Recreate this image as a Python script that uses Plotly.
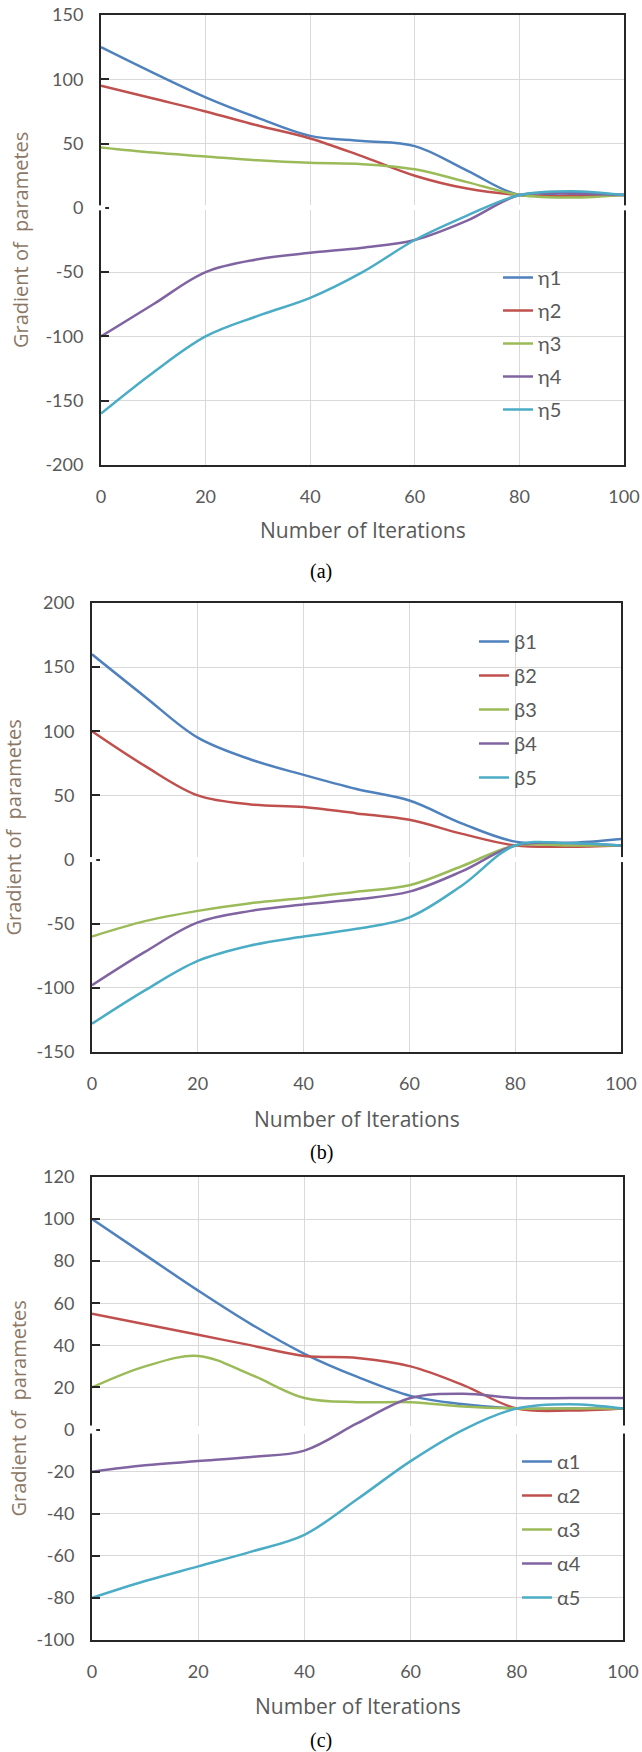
import plotly.graph_objects as go

# ---------------- data ----------------
iterations = [0, 10, 20, 30, 40, 50, 60, 70, 80, 90, 100]

eta_names = ["η1", "η2", "η3", "η4", "η5"]
eta1 = [125, 105, 86, 70, 56, 52, 48, 29, 10, 12, 10]
eta2 = [95, 85, 75, 64, 54, 40, 25, 15, 10, 9, 10]
eta3 = [47, 43, 40, 37, 35, 34, 30, 20, 10, 8, 10]
eta4 = [-100, -75, -50, -40, -35, -31, -25, -10, 10, 11, 10]
eta5 = [-160, -128, -100, -84, -70, -50, -25, -6, 10, 13, 10]

beta_names = ["β1", "β2", "β3", "β4", "β5"]
beta1 = [160, 127, 95, 78, 66, 55, 46, 28, 14, 13, 16]
beta2 = [100, 73, 50, 43, 41, 36, 31, 20, 11, 10, 11]
beta3 = [-60, -48, -40, -34, -30, -25, -20, -5, 11, 11, 11]
beta4 = [-98, -72, -49, -40, -35, -31, -25, -9, 11, 13, 11]
beta5 = [-128, -102, -79, -67, -60, -54, -45, -20, 11, 13, 11]

alpha_names = ["α1", "α2", "α3", "α4", "α5"]
alpha1 = [100, 83, 66, 50, 36, 25, 16, 12, 10, 10, 10]
alpha2 = [55, 50, 45, 40, 35, 34, 30, 21, 10, 9, 10]
alpha3 = [20, 30, 35, 26, 15, 13, 13, 11, 10, 10, 10]
alpha4 = [-20, -17, -15, -13, -10, 3, 15, 17, 15, 15, 15]
alpha5 = [-80, -72, -65, -58, -50, -33, -15, 0, 10, 12, 10]

x_ticks = [0, 20, 40, 60, 80, 100]
y_ticks_a = [-200, -150, -100, -50, 0, 50, 100, 150]
y_ticks_b = [-150, -100, -50, 0, 50, 100, 150, 200]
y_ticks_c = [-100, -80, -60, -40, -20, 0, 20, 40, 60, 80, 100, 120]
captions = ["(a)", "(b)", "(c)"]

colors = ["#4F81BD", "#C0504D", "#9BBB59", "#8064A2", "#4BACC6"]

W, H = 642, 1752
TICK_FONT = dict(family="Lato", size=18, color="#595959")
TITLE_FONT_X = dict(family="Open Sans", size=21, color="#595959")
TITLE_FONT_Y = dict(family="Open Sans", size=20, color="#8b7765")


def px_x(v):
    return v / W


def px_y(v):
    return 1 - v / H


# plot areas in pixels: (left, right, top, bottom)
areas = [(101, 624, 15, 465), (92, 621, 603, 1052), (92, 623, 1177, 1640)]
legend_pos = [(498, 258), (474, 622), (517, 1442)]
legend_gap = [4, 5, 5]
xtitle_y = [530, 1119, 1706]
ytitle_x = [20, 13, 18]
caption_y = [571, 1152, 1740]
zero_w = [5, 5, 8]

fig = go.Figure()

panels = [
    (eta_names, [eta1, eta2, eta3, eta4, eta5], y_ticks_a),
    (beta_names, [beta1, beta2, beta3, beta4, beta5], y_ticks_b),
    (alpha_names, [alpha1, alpha2, alpha3, alpha4, alpha5], y_ticks_c),
]

annotations = []
shapes = []
for p, (names, series, yt) in enumerate(panels):
    suffix = "" if p == 0 else str(p + 1)
    legend_id = "legend" + suffix
    for i, (name, vals) in enumerate(zip(names, series)):
        fig.add_trace(go.Scatter(
            x=iterations, y=vals, name=name, mode="lines",
            line=dict(color=colors[i], width=2.5, shape="spline", smoothing=1.0),
            xaxis="x" + suffix, yaxis="y" + suffix,
            legend=legend_id, legendgroup=f"{p}-{i}",
        ))
    left, right, top, bottom = areas[p]
    fig.update_layout(**{
        "xaxis" + suffix: dict(
            domain=[px_x(left), px_x(right)], anchor="y" + suffix,
            range=[0, 100], tickvals=x_ticks, ticktext=[str(v) for v in x_ticks],
            showgrid=True, gridcolor="#d9d9d9", gridwidth=1, zeroline=False,
            showline=True, mirror=True, linecolor="#262626", linewidth=2,
            ticks="", tickfont=TICK_FONT, ticklabelstandoff=14, automargin=False,
        ),
        "yaxis" + suffix: dict(
            domain=[px_y(bottom), px_y(top)], anchor="x" + suffix,
            range=[yt[0], yt[-1]], tickvals=yt, ticktext=[str(v) for v in yt],
            showgrid=True, gridcolor="#d9d9d9", gridwidth=1,
            zeroline=True, zerolinecolor="#ffffff", zerolinewidth=zero_w[p],
            showline=True, mirror=True, linecolor="#262626", linewidth=2,
            ticks="inside", ticklen=8, tickcolor="#262626", tickwidth=2,
            tickfont=TICK_FONT, ticklabelstandoff=12, automargin=False,
        ),
        legend_id: dict(
            x=px_x(legend_pos[p][0]), y=px_y(legend_pos[p][1]),
            xanchor="left", yanchor="top",
            bgcolor="rgba(0,0,0,0)", borderwidth=0,
            font=dict(family="Lato", size=20, color="#595959"),
            tracegroupgap=legend_gap[p], traceorder="grouped",
        ),
    })
    # white break of the frame where the horizontal axis (y = 0) crosses it
    for xd in (0, 1):
        shapes.append(dict(
            type="line", xref=("x" + suffix) + " domain", yref="y" + suffix,
            x0=xd - 0.008, x1=xd + 0.008, y0=0, y1=0, layer="above",
            line=dict(color="#ffffff", width=zero_w[p]),
        ))
    annotations.append(dict(
        text="Number of Iterations", xref="paper", yref="paper",
        x=px_x((left + right) / 2), y=px_y(xtitle_y[p]),
        xanchor="center", yanchor="middle", showarrow=False,
        font=TITLE_FONT_X,
    ))
    annotations.append(dict(
        text="Gradient of  parametes", xref="paper", yref="paper",
        x=px_x(ytitle_x[p]), y=px_y((top + bottom) / 2),
        xanchor="center", yanchor="middle", showarrow=False, textangle=-90,
        font=TITLE_FONT_Y,
    ))
    annotations.append(dict(
        text=captions[p], xref="paper", yref="paper",
        x=0.5, y=px_y(caption_y[p]),
        xanchor="center", yanchor="middle", showarrow=False,
        font=dict(family="Liberation Serif", size=20, color="#000000"),
    ))

fig.update_layout(
    width=W, height=H,
    margin=dict(l=0, r=0, t=0, b=0, autoexpand=False),
    paper_bgcolor="white", plot_bgcolor="white",
    annotations=annotations, shapes=shapes,
    showlegend=True,
)

fig.write_html(
    "out.html",
    config={"displayModeBar": False},
    post_script="document.body.style.margin='0';document.body.style.overflow='hidden';",
)
